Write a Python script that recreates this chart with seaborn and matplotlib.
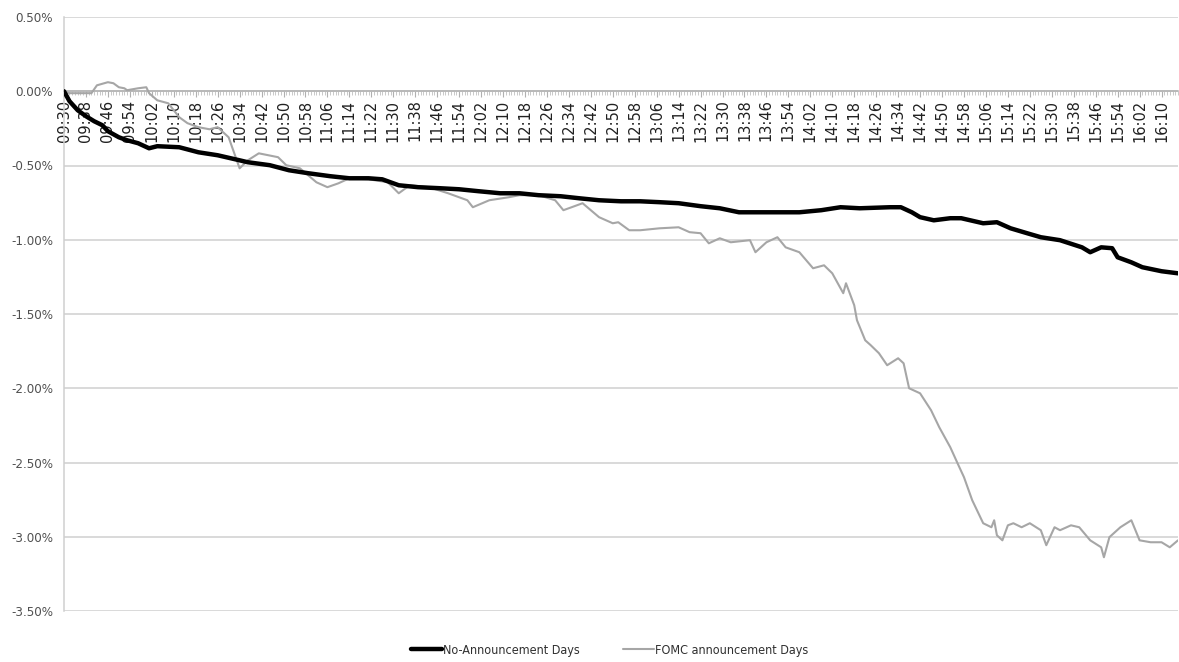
import matplotlib
matplotlib.use("Agg")
import matplotlib.pyplot as plt
from matplotlib import font_manager as fm
from matplotlib.ticker import MultipleLocator, FixedLocator
import seaborn as sns
import pandas as pd

# ---------------- data (minutes after 09:30, cumulative return in %) ----------------
no_ann_minutes = [0, 2, 5, 8, 11, 14, 16, 20, 23, 27, 31, 34, 42, 49, 56, 64, 67, 75, 82, 89,
                  97, 104, 111, 116, 122, 129, 137, 144, 151, 159, 166, 173, 181, 188, 195, 203,
                  210, 217, 224, 232, 239, 246, 254, 261, 268, 276, 283, 290, 301, 305, 309, 312,
                  317, 323, 327, 335, 340, 345, 351, 356, 363, 371, 374, 378, 382, 384, 389, 393,
                  400, 406]
no_ann_values = [0.000, -0.067, -0.128, -0.168, -0.202, -0.229, -0.269, -0.310, -0.330, -0.350,
                 -0.384, -0.370, -0.377, -0.411, -0.431, -0.465, -0.478, -0.498, -0.532, -0.552,
                 -0.572, -0.586, -0.586, -0.593, -0.633, -0.646, -0.653, -0.660, -0.673, -0.687,
                 -0.687, -0.700, -0.707, -0.721, -0.734, -0.741, -0.741, -0.747, -0.754, -0.774,
                 -0.788, -0.815, -0.815, -0.815, -0.815, -0.801, -0.781, -0.788, -0.781, -0.781,
                 -0.815, -0.848, -0.869, -0.855, -0.855, -0.889, -0.882, -0.923, -0.956, -0.983,
                 -1.003, -1.051, -1.084, -1.051, -1.057, -1.118, -1.152, -1.185, -1.212, -1.226]

fomc_minutes = [0, 2, 10, 12, 16, 18, 20, 22, 23, 27, 30, 31, 34, 38, 42, 45, 49, 53, 56, 60,
                64, 67, 71, 78, 81, 86, 92, 96, 100, 104, 111, 118, 122, 126, 133, 140, 147, 149,
                155, 162, 166, 173, 179, 182, 185, 189, 195, 200, 202, 206, 210, 217, 224, 228,
                232, 235, 239, 243, 250, 252, 256, 260, 263, 268, 273, 277, 280, 284, 285, 288,
                289, 292, 294, 297, 300, 304, 306, 308, 312, 316, 319, 323, 326, 328, 331, 335,
                338, 339, 340, 342, 344, 346, 349, 352, 356, 358, 361, 363, 367, 370, 374, 378,
                379, 381, 385, 389, 392, 396, 400, 403, 406]
fomc_values = [0.000, -0.013, -0.013, 0.040, 0.061, 0.054, 0.027, 0.020, 0.007, 0.020, 0.027,
               -0.013, -0.061, -0.081, -0.175, -0.215, -0.242, -0.256, -0.242, -0.310, -0.519,
               -0.465, -0.418, -0.444, -0.498, -0.519, -0.613, -0.646, -0.620, -0.586, -0.593,
               -0.613, -0.687, -0.633, -0.646, -0.687, -0.734, -0.781, -0.734, -0.714, -0.700,
               -0.700, -0.734, -0.801, -0.781, -0.754, -0.848, -0.889, -0.882, -0.936, -0.936,
               -0.923, -0.916, -0.949, -0.956, -1.024, -0.990, -1.017, -1.003, -1.084, -1.017,
               -0.983, -1.051, -1.084, -1.192, -1.172, -1.226, -1.360, -1.293, -1.441, -1.542,
               -1.677, -1.710, -1.764, -1.845, -1.798, -1.832, -2.000, -2.034, -2.148, -2.263,
               -2.397, -2.519, -2.599, -2.754, -2.909, -2.936, -2.889, -2.990, -3.024, -2.923,
               -2.909, -2.936, -2.909, -2.956, -3.057, -2.936, -2.956, -2.923, -2.936, -3.024,
               -3.071, -3.138, -3.003, -2.936, -2.889, -3.024, -3.037, -3.037, -3.071, -3.024]

series_names = ["No-Announcement Days", "FOMC announcement Days"]

x_tick_labels = ["09:30", "09:38", "09:46", "09:54", "10:02", "10:10", "10:18", "10:26", "10:34",
                 "10:42", "10:50", "10:58", "11:06", "11:14", "11:22", "11:30", "11:38", "11:46",
                 "11:54", "12:02", "12:10", "12:18", "12:26", "12:34", "12:42", "12:50", "12:58",
                 "13:06", "13:14", "13:22", "13:30", "13:38", "13:46", "13:54", "14:02", "14:10",
                 "14:18", "14:26", "14:34", "14:42", "14:50", "14:58", "15:06", "15:14", "15:22",
                 "15:30", "15:38", "15:46", "15:54", "16:02", "16:10"]
x_tick_step = 8  # minutes between labels

y_ticks = [0.5, 0.0, -0.5, -1.0, -1.5, -2.0, -2.5, -3.0, -3.5]
y_tick_labels = ["0.50%", "0.00%", "-0.50%", "-1.00%", "-1.50%", "-2.00%", "-2.50%", "-3.00%", "-3.50%"]

# ---------------- fonts ----------------
def has_font(name):
    try:
        fm.findfont(fm.FontProperties(family=name), fallback_to_default=False)
        return True
    except Exception:
        return False

sns.set_theme(style="white")
if has_font("Liberation Sans Narrow"):
    narrow = dict(family=["Liberation Sans Narrow", "DejaVu Sans"])
else:
    narrow = dict(family=["DejaVu Sans"], stretch="condensed")
plt.rcParams["font.family"] = ["DejaVu Sans"]

df_no = pd.DataFrame({"minute": no_ann_minutes, "value": no_ann_values})
df_fo = pd.DataFrame({"minute": fomc_minutes, "value": fomc_values})

W, H = 1179, 662
fig = plt.figure(figsize=(W / 100, H / 100), dpi=100)
ax = fig.add_axes([64 / W, 1 - 611 / H, (1178 - 64) / W, (611 - 17) / H])
ax.set_axisbelow(True)

sns.lineplot(data=df_fo, x="minute", y="value", ax=ax, color="#a6a6a6", linewidth=1.5,
             label=series_names[1], zorder=3)
sns.lineplot(data=df_no, x="minute", y="value", ax=ax, color="#000000", linewidth=3.2,
             label=series_names[0], zorder=4)

ax.set_xlim(0, 406)
ax.set_ylim(-3.5, 0.5)
ax.set_xlabel("")
ax.set_ylabel("")

# grid
ax.yaxis.set_major_locator(FixedLocator(y_ticks))
ax.set_yticklabels(y_tick_labels, color="#505050", fontsize=9.5, **narrow)
ax.grid(axis="y", color="#cfcfcf", linewidth=1.1)
ax.grid(axis="x", visible=False)
ax.tick_params(axis="y", length=0, pad=8)

# x axis crossing at 0
for s in ["top", "right"]:
    ax.spines[s].set_visible(False)
ax.spines["left"].set_color("#cfcfcf")
ax.spines["left"].set_linewidth(1.1)
ax.spines["bottom"].set_position(("data", 0))
ax.spines["bottom"].set_color("#b0b0b0")
ax.spines["bottom"].set_linewidth(1.1)

xt = [i * x_tick_step for i in range(len(x_tick_labels))]
ax.set_xticks(xt)
ax.set_xticklabels(x_tick_labels, rotation=90, fontsize=10.5, color="#202020",
                   family="DejaVu Sans")
ax.xaxis.set_minor_locator(MultipleLocator(1))
ax.tick_params(axis="x", which="major", length=4, width=0.8, color="#b0b0b0", pad=2,
               direction="out", bottom=True)
ax.tick_params(axis="x", which="minor", length=3, width=0.6, color="#c0c0c0",
               direction="out", bottom=True)

# legend
ax.get_legend().remove()
h, l = ax.get_legend_handles_labels()
order = [l.index(series_names[0]), l.index(series_names[1])]
fig.legend([h[i] for i in order], [l[i] for i in order], loc="center",
           bbox_to_anchor=(0.517, 0.018), ncol=2, frameon=False, handlelength=2.5,
           handletextpad=0.1, columnspacing=3.4,
           prop=fm.FontProperties(size=9.0, **narrow), labelcolor="#303030")

fig.savefig("out.png", dpi=100)
